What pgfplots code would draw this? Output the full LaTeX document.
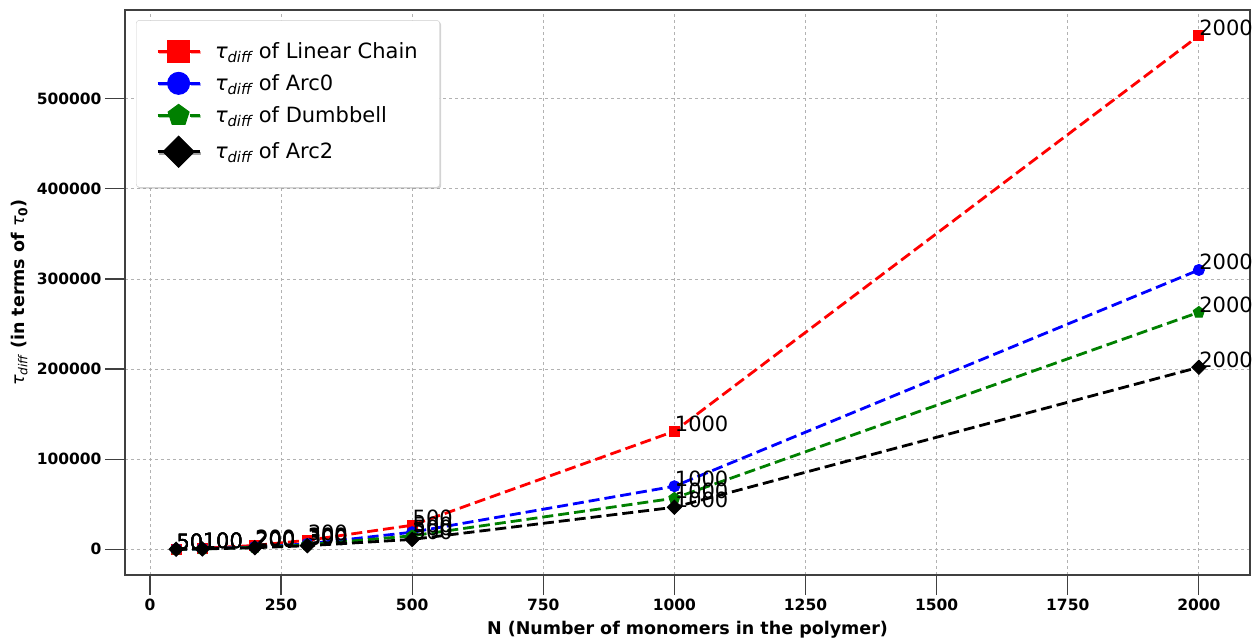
\documentclass[border=0pt]{standalone}
\usepackage{pgfplots}
\pgfplotsset{compat=1.18}
\usepackage{pgfplotstable}
\usepackage{fontspec}
\setmainfont{DejaVu Sans}
\usetikzlibrary{shadows,plotmarks}

\pgfplotstableread{
N tau
50 250
100 1100
200 4300
300 10000
500 26700
1000 131000
2000 570000
}\linear
\pgfplotstableread{
N tau
50 150
100 600
200 2600
300 6000
500 19000
1000 70000
2000 310000
}\arczero
\pgfplotstableread{
N tau
50 130
100 500
200 2200
300 5000
500 15000
1000 56700
2000 263000
}\dumbbell
\pgfplotstableread{
N tau
50 100
100 400
200 1800
300 4000
500 11000
1000 46700
2000 202000
}\arctwo

\newcommand{\tdiff}{{\normalfont\itshape τ}\textsubscript{\normalfont\itshape diff}}

\begin{document}
\begin{tikzpicture}
\useasboundingbox (-125pt,-65pt) rectangle (1132pt,575pt);
\begin{axis}[
  scale only axis, width=1125pt, height=565pt, at={(0pt,0pt)}, anchor=south west,
  xmin=-47.5, xmax=2097.5, ymin=-28500, ymax=598500,
  xtick={0,250,...,2000}, ytick={0,100000,...,500000},
  scaled ticks=false,
  /pgf/number format/fixed, /pgf/number format/1000 sep={},
  /pgf/number format/assume math mode=true,
  tick label style={font=\bfseries\fontsize{15.5}{18}\selectfont, text=black},
  tick align=outside, tick pos=left, major tick length=20pt,
  tick style={draw=black!75, line width=1.2pt},
  axis line style={draw=black!75, line width=1.2pt},
  grid=major, grid style={dashed, draw=black!30, line width=0.8pt},
  clip=false,
  xlabel={N (Number of monomers in the polymer)},
  xlabel style={font=\bfseries\fontsize{17.5}{20}\selectfont, at={(axis description cs:0.5,-0.096)}, anchor=center},
  ylabel={\tdiff\ \textbf{(in terms of} {\normalfont\itshape τ}\textsubscript{0}\textbf{)}},
  ylabel style={font=\bfseries\fontsize{17.5}{20}\selectfont, at={(axis description cs:-0.094,0.5)}, anchor=center, rotate=0},
  legend style={at={(0.0098,0.982)}, anchor=north west, draw=black!20, fill=white,
    rounded corners=3pt, drop shadow={shadow xshift=1.5pt, shadow yshift=-1.5pt, opacity=0.35},
    font=\fontsize{21}{25}\selectfont, row sep=10pt, inner xsep=20pt, inner ysep=20pt},
  legend cell align=left,
  legend image code/.code={\draw[mark repeat=2,mark phase=2] plot coordinates {(0pt,0pt) (21pt,0pt) (42pt,0pt)}; \path (54pt,0pt);},
  legend image post style={mark size=11pt},
  nodes near coords={\pgfmathprintnumber[fixed,precision=0,1000 sep={}]{\pgfplotspointmeta}},
  point meta=x,
  every node near coord/.style={anchor=base west, inner sep=0pt, font=\fontsize{21}{25}\selectfont, text=black},
  every axis plot/.append style={line width=2.8pt, dash pattern=on 11pt off 5pt},
]
\addplot[color=red, mark=square*, mark size=5pt, mark options={solid, line width=1pt}] table[x=N,y=tau] {\linear};
\addlegendentry{\tdiff\ of Linear Chain}
\addplot[color=blue, mark=*, mark size=5.5pt, mark options={solid, line width=1pt}] table[x=N,y=tau] {\arczero};
\addlegendentry{\tdiff\ of Arc0}
\addplot[color={rgb,1:red,0;green,0.5;blue,0}, mark=pentagon*, mark size=5.8pt, mark options={solid, line width=1pt}] table[x=N,y=tau] {\dumbbell};
\addlegendentry{\tdiff\ of Dumbbell}
\addplot[color=black, mark=square*, mark size=5pt, mark options={solid, rotate=45, line width=1pt}] table[x=N,y=tau] {\arctwo};
\addlegendentry{\tdiff\ of Arc2}
\end{axis}
\end{tikzpicture}
\end{document}
